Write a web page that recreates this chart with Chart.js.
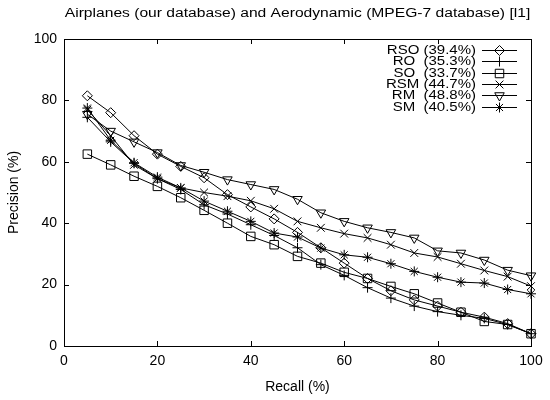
<!DOCTYPE html>
<html>
<head>
<meta charset="utf-8">
<script src="https://cdn.jsdelivr.net/npm/chart.js@4.4.1/dist/chart.umd.min.js"></script>
<style>
  html, body { margin: 0; padding: 0; background: #fff; }
</style>
</head>
<body>
<canvas id="prChart" width="550" height="400"></canvas>
<script>
const chartTitle = 'Airplanes (our database) and Aerodynamic (MPEG-7 database) [l1]';
const xAxisTitle = 'Recall (%)';
const yAxisTitle = 'Precision (%)';

const recall = [5, 10, 15, 20, 25, 30, 35, 40, 45, 50, 55, 60, 65, 70, 75, 80, 85, 90, 95, 100];
const rsoPrecision = [81.5, 76, 68.5, 62.5, 58.5, 54.8, 49.3, 45.3, 41.4, 37, 32, 27, 22, 18, 15, 13, 11, 9.4, 7.3, 4];
const roPrecision = [74.5, 66.5, 59.5, 54.5, 51, 46, 43, 39.5, 36, 32, 26.5, 23, 19, 15.6, 13, 11.2, 10, 9, 7, 4];
const soPrecision = [62.5, 59, 55.3, 52, 48.3, 44.2, 40, 35.7, 33, 29.2, 27, 24, 22, 19.4, 17, 14, 11, 8, 7, 4];
const rsmPrecision = [77, 68.5, 59, 54.5, 51.5, 50, 48.8, 47.3, 44.7, 40.6, 38.5, 36.6, 35.2, 33, 30.3, 29, 26.8, 24.6, 22.6, 19.5];
const rmPrecision = [75.5, 70, 66.5, 63, 58.8, 56.6, 54.2, 52.6, 51, 47.8, 43.4, 40.6, 38.5, 37, 35.2, 31, 30.3, 28, 24.7, 22.9];
const smPrecision = [77.5, 67, 59.7, 55, 51.5, 47.2, 43.9, 40.6, 36.8, 35.5, 31.9, 29.7, 28.9, 26.8, 24.3, 22.4, 20.8, 20.5, 18.4, 17];

const seriesLabels = ['RSO (39.4%)', 'RO  (35.3%)', 'SO  (33.7%)', 'RSM (44.7%)', 'RM  (48.8%)', 'SM  (40.5%)'];
const axisTicks = [0, 20, 40, 60, 80, 100];

const seriesValues = [rsoPrecision, roPrecision, soPrecision, rsmPrecision, rmPrecision, smPrecision];
const markers = [
    { style: 'rectRot', radius: 5, rotation: 0 },
    { style: 'cross', radius: 5, rotation: 0 },
    { style: 'rect', radius: 6, rotation: 0 },
    { style: 'crossRot', radius: 5.5, rotation: 0 },
    { style: 'triangle', radius: 5.5, rotation: 180 },
    { style: 'star', radius: 5, rotation: 0 }
];

const fontFamily = '"Liberation Sans", Arial, sans-serif';
const baseFont = { family: fontFamily, size: 14 };
const textStretch = 1.25; // the original lettering is wide and short

const datasets = seriesValues.map((vals, i) => ({
    label: seriesLabels[i],
    data: recall.map((r, j) => ({ x: r, y: vals[j] })),
    borderColor: '#000',
    borderWidth: 1,
    backgroundColor: 'rgba(0,0,0,0)',
    pointStyle: markers[i].style,
    pointRadius: markers[i].radius,
    pointRotation: markers[i].rotation,
    pointBorderColor: '#000',
    pointBackgroundColor: 'rgba(0,0,0,0)',
    pointBorderWidth: 1,
    tension: 0,
    fill: false,
    clip: false
}));

function wideText(ctx, text, x, y, size, align) {
    ctx.save();
    ctx.font = `${size}px ${fontFamily}`;
    ctx.textAlign = align;
    ctx.textBaseline = 'middle';
    ctx.fillStyle = '#000';
    ctx.translate(x, y);
    ctx.scale(textStretch, 1);
    ctx.fillText(text, 0, 0);
    ctx.restore();
}

// frame, inward tick marks, title and the gnuplot-style legend
const framePlugin = {
    id: 'frame',
    afterDatasetsDraw(chart) {
        const { ctx, chartArea: a, scales: { x, y } } = chart;
        ctx.save();
        ctx.strokeStyle = '#000';
        ctx.lineWidth = 1;
        ctx.strokeRect(Math.round(a.left) + 0.5, Math.round(a.top) + 0.5,
            Math.round(a.right - a.left), Math.round(a.bottom - a.top));
        const tl = 5;
        ctx.beginPath();
        axisTicks.forEach(v => {
            const px = Math.round(x.getPixelForValue(v)) + 0.5;
            ctx.moveTo(px, a.bottom); ctx.lineTo(px, a.bottom - tl);
            ctx.moveTo(px, a.top); ctx.lineTo(px, a.top + tl);
            const py = Math.round(y.getPixelForValue(v)) + 0.5;
            ctx.moveTo(a.left, py); ctx.lineTo(a.left + tl, py);
            ctx.moveTo(a.right, py); ctx.lineTo(a.right - tl, py);
        });
        ctx.stroke();
        ctx.restore();
    },
    afterDraw(chart) {
        const { ctx, chartArea: a } = chart;
        wideText(ctx, chartTitle, (a.left + a.right) / 2, 14, 12.5, 'center');

        const textRight = a.right - 55;
        const lineX0 = a.right - 49;
        const lineX1 = a.right - 14;
        chart.data.datasets.forEach((ds, i) => {
            const rowY = Math.round(50 + i * 11.3) + 0.5;
            wideText(ctx, ds.label, textRight, rowY, 12, 'right');
            ctx.save();
            ctx.strokeStyle = '#000';
            ctx.fillStyle = 'rgba(0,0,0,0)';
            ctx.lineWidth = 1;
            ctx.beginPath();
            ctx.moveTo(lineX0, rowY);
            ctx.lineTo(lineX1, rowY);
            ctx.stroke();
            Chart.helpers.drawPoint(ctx, {
                pointStyle: ds.pointStyle,
                radius: ds.pointRadius,
                rotation: ds.pointRotation,
                borderWidth: 1
            }, (lineX0 + lineX1) / 2, rowY);
            ctx.restore();
        });
    }
};

new Chart(document.getElementById('prChart'), {
    type: 'line',
    data: { datasets },
    options: {
        responsive: false,
        animation: false,
        devicePixelRatio: 1,
        layout: { padding: { top: 39, right: 19, left: 0, bottom: 0 } },
        plugins: {
            legend: { display: false },
            title: { display: false },
            tooltip: { enabled: false }
        },
        scales: {
            x: {
                type: 'linear',
                min: 0,
                max: 100,
                afterBuildTicks: s => { s.ticks = axisTicks.map(v => ({ value: v })); },
                afterFit: s => { s.height = 54; },
                grid: { display: false, drawTicks: false },
                border: { display: false },
                ticks: { color: '#000', font: baseFont, padding: 7, maxRotation: 0 },
                title: { display: true, text: xAxisTitle, color: '#000', font: baseFont, padding: { top: 0, bottom: 4 } }
            },
            y: {
                type: 'linear',
                min: 0,
                max: 100,
                afterBuildTicks: s => { s.ticks = axisTicks.map(v => ({ value: v })); },
                afterFit: s => { s.width = 64; },
                grid: { display: false, drawTicks: false },
                border: { display: false },
                ticks: { color: '#000', font: baseFont, padding: 7 },
                title: { display: true, text: yAxisTitle, color: '#000', font: baseFont, padding: { top: 6, bottom: 0 } }
            }
        }
    },
    plugins: [framePlugin]
});
</script>
</body>
</html>
